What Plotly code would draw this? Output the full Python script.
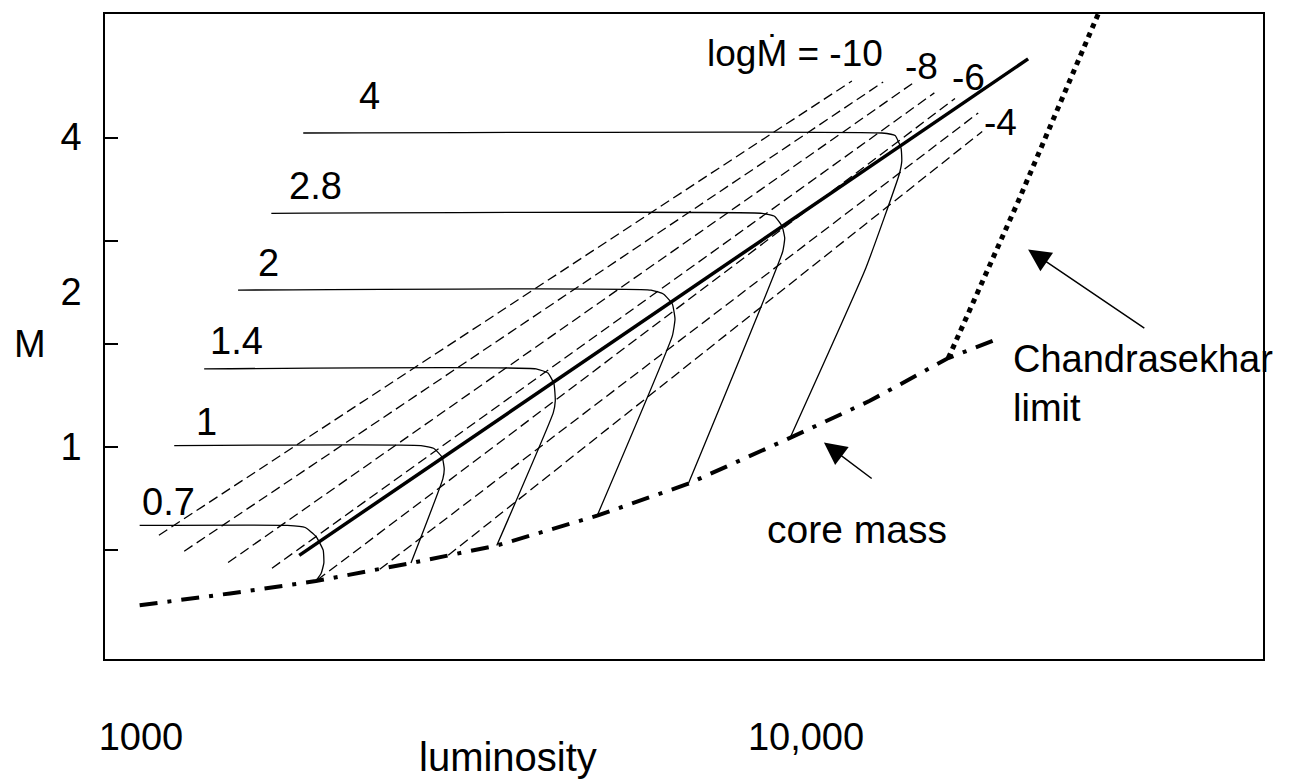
import numpy as np
import plotly.graph_objects as go

# ---- data (log10 luminosity, log10 mass) ----
track_labels = ["4", "2.8", "2", "1.4", "1", "0.7"]

track_4_logL = [3.244, 4.114, 4.134, 4.143, 4.144, 4.140, 4.090, 3.976]
track_4_logM = [0.609, 0.609, 0.604, 0.579, 0.554, 0.528, 0.347, 0.017]

track_28_logL = [3.196, 3.934, 3.953, 3.964, 3.968, 3.965, 3.823]
track_28_logM = [0.453, 0.453, 0.447, 0.428, 0.405, 0.379, -0.072]

track_2_logL = [3.146, 3.767, 3.786, 3.799, 3.803, 3.799, 3.686]
track_2_logM = [0.304, 0.304, 0.296, 0.277, 0.248, 0.215, -0.134]

track_14_logL = [3.095, 3.594, 3.612, 3.621, 3.623, 3.620, 3.535]
track_14_logM = [0.151, 0.151, 0.143, 0.122, 0.089, 0.066, -0.192]

track_1_logL = [3.050, 3.421, 3.441, 3.453, 3.456, 3.454, 3.406]
track_1_logM = [0.002, 0.002, -0.004, -0.021, -0.043, -0.062, -0.226]

track_07_logL = [2.998, 3.220, 3.247, 3.263, 3.274, 3.275, 3.271, 3.263]
track_07_logM = [-0.153, -0.153, -0.157, -0.174, -0.201, -0.226, -0.246, -0.261]

core_logL = [2.998, 3.134, 3.263, 3.406, 3.535, 3.686, 3.823, 3.976, 4.096, 4.214, 4.292]
core_logM = [-0.308, -0.285, -0.261, -0.226, -0.192, -0.134, -0.072, 0.017, 0.089, 0.172, 0.211]

chandra_logL = [4.214, 4.319, 4.442]
chandra_logM = [0.172, 0.476, 0.848]

superwind_logL = [3.238, 4.334]
superwind_logM = [-0.211, 0.753]

mdot_values = [-10, -9, -8, -7, -6, -5, -4]
mdot_lo_logL = [3.027, 3.065, 3.131, 3.197, 3.265, 3.359, 3.462]
mdot_lo_logM = [-0.172, -0.203, -0.225, -0.236, -0.259, -0.238, -0.211]
mdot_hi_logL = [4.069, 4.116, 4.162, 4.193, 4.224, 4.259, 4.265]
mdot_hi_logM = [0.710, 0.708, 0.707, 0.687, 0.676, 0.648, 0.612]

x_tick_vals = [1000, 10000]
x_tick_text = ["1000", "10,000"]
y_tick_vals = [1, 2, 4]
y_tick_text = ["1", "2", "4"]
y_minor_logM = [-0.2, 0.0, 0.2, 0.4, 0.6]

# label positions (log units) for the annotations
track_label_logL = [3.344, 3.262, 3.191, 3.143, 3.099, 3.041]
track_label_logM = [0.681, 0.507, 0.356, 0.205, 0.048, -0.108]
mdot_label_values = [-10, -8, -6, -4]
mdot_label_logL = [3.984, 4.173, 4.244, 4.293]
mdot_label_logM = [0.763, 0.739, 0.716, 0.629]

FONT = "Liberation Sans, Arial, sans-serif"
FS = 38

fig = go.Figure()

def p(v):
    return list(10 ** np.array(v, dtype=float))

# constant mass-loss-rate lines (dashed)
for i, v in enumerate(mdot_values):
    fig.add_trace(go.Scatter(
        x=p([mdot_lo_logL[i], mdot_hi_logL[i]]),
        y=p([mdot_lo_logM[i], mdot_hi_logM[i]]),
        mode="lines", line=dict(color="black", width=1.3, dash="10px,5px"),
        hoverinfo="skip", name=f"logMdot={v}"))

# thick solid line
fig.add_trace(go.Scatter(x=p(superwind_logL), y=p(superwind_logM), mode="lines",
                         line=dict(color="black", width=3.5), hoverinfo="skip"))

# evolutionary tracks
tracks = [(track_4_logL, track_4_logM), (track_28_logL, track_28_logM),
          (track_2_logL, track_2_logM), (track_14_logL, track_14_logM),
          (track_1_logL, track_1_logM), (track_07_logL, track_07_logM)]
for (lx, ly), lab in zip(tracks, track_labels):
    fig.add_trace(go.Scatter(x=p(lx), y=p(ly), mode="lines",
                             line=dict(color="black", width=1.3, shape="spline", smoothing=0.4),
                             hoverinfo="skip", name=f"M={lab}"))

# core mass (dash-dot)
fig.add_trace(go.Scatter(x=p(core_logL), y=p(core_logM), mode="lines",
                         line=dict(color="black", width=4, dash="18px,10px,4px,10px"),
                         hoverinfo="skip", name="core mass"))

# Chandrasekhar limit (dotted)
fig.add_trace(go.Scatter(x=p(chandra_logL), y=p(chandra_logM), mode="lines",
                         line=dict(color="black", width=5, dash="5px,5px"),
                         hoverinfo="skip", name="Chandrasekhar"))

ann = []
for lab, lx, ly in zip(track_labels, track_label_logL, track_label_logM):
    ann.append(dict(x=lx, y=ly, xref="x", yref="y", text=lab, showarrow=False,
                    font=dict(size=FS, family=FONT, color="black")))
for v, lx, ly in zip(mdot_label_values, mdot_label_logL, mdot_label_logM):
    t = f"logṀ = {v}" if v == -10 else f"{v}"
    ann.append(dict(x=lx, y=ly, xref="x", yref="y", text=t, showarrow=False,
                    font=dict(size=FS - 1, family=FONT, color="black")))
ann.append(dict(x=4.308, y=0.122, xref="x", yref="y", text="Chandrasekhar<br>limit",
                showarrow=False, xanchor="left", align="left",
                font=dict(size=FS, family=FONT, color="black")))
ann.append(dict(x=3.938, y=-0.161, xref="x", yref="y", text="core mass",
                showarrow=False, xanchor="left",
                font=dict(size=FS + 1, family=FONT, color="black")))
# arrows
ann.append(dict(x=4.334, y=0.383, ax=4.511, ay=0.228, xref="x", yref="y",
                axref="x", ayref="y", text="", showarrow=True, arrowhead=2,
                arrowsize=3, arrowwidth=1.5, arrowcolor="black"))
ann.append(dict(x=4.027, y=0.008, ax=4.101, ay=-0.064, xref="x", yref="y",
                axref="x", ayref="y", text="", showarrow=True, arrowhead=2,
                arrowsize=3, arrowwidth=1.5, arrowcolor="black"))
# axis titles
ann.append(dict(x=-0.065, y=0.2, xref="paper", yref="y", text="M", showarrow=False,
                xanchor="center", font=dict(size=FS, family=FONT, color="black")))
ann.append(dict(x=0.348, y=-0.152, xref="paper", yref="paper", text="luminosity",
                showarrow=False, xanchor="center", yanchor="middle",
                font=dict(size=FS + 2, family=FONT, color="black")))

fig.update_layout(
    width=1299, height=783,
    margin=dict(l=105, r=36, t=12, b=124),
    paper_bgcolor="white", plot_bgcolor="white",
    showlegend=False,
    annotations=ann,
    xaxis=dict(type="log", range=[2.9459, 4.6872], tickvals=x_tick_vals, ticktext=x_tick_text,
               ticks="", showgrid=False, zeroline=False, showline=True, mirror=True,
               linecolor="black", linewidth=1.5, ticklabelstandoff=44,
               tickfont=dict(size=FS, family=FONT, color="black")),
    yaxis=dict(type="log", range=[-0.4123, 0.8401], tickvals=y_tick_vals, ticktext=y_tick_text,
               ticks="", showgrid=False, zeroline=False, showline=True, mirror=True,
               linecolor="black", linewidth=1.5, ticklabelstandoff=14,
               minor=dict(tickvals=p(y_minor_logM), ticks="inside", ticklen=13,
                          tickwidth=1.5, tickcolor="black", showgrid=False),
               tickfont=dict(size=FS, family=FONT, color="black")),
)

fig.write_html("out.html")
